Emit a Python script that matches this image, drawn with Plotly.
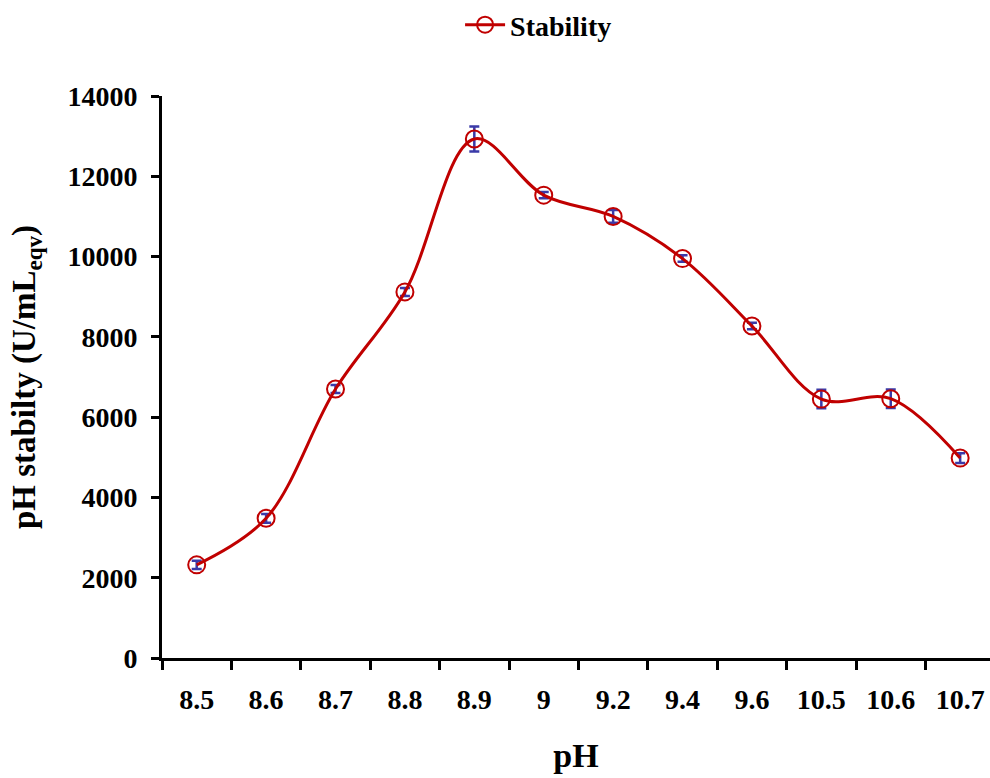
import plotly.graph_objects as go

ph_labels = ["8.5", "8.6", "8.7", "8.8", "8.9", "9", "9.2", "9.4", "9.6", "10.5", "10.6", "10.7"]
stability = [2320, 3480, 6700, 9120, 12930, 11530, 11000, 9950, 8270, 6450, 6460, 4980]
stability_err = [100, 110, 100, 100, 310, 80, 160, 80, 80, 230, 230, 120]
y_ticks = [0, 2000, 4000, 6000, 8000, 10000, 12000, 14000]

FONT = "Liberation Serif, Times New Roman, serif"
RED = "#C00000"
BLUE = "#3A3AA8"

fig = go.Figure()
fig.add_trace(go.Scatter(
    x=ph_labels, y=stability,
    mode="lines+markers",
    name="Stability",
    line=dict(color=RED, width=3, shape="spline", smoothing=1.0),
    marker=dict(symbol="circle-open", size=17, color=RED, line=dict(width=2, color=RED)),
    error_y=dict(type="data", array=stability_err, visible=True, color=BLUE, thickness=2.5, width=5),
))

fig.update_layout(
    width=990, height=778,
    margin=dict(l=162, r=0, t=96, b=120),
    paper_bgcolor="white", plot_bgcolor="white",
    font=dict(family=FONT, size=28, color="black", weight="bold"),
    showlegend=True,
    legend=dict(orientation="h", x=0.36, xref="paper", xanchor="left", y=1.0, yref="container",
                yanchor="top", font=dict(family=FONT, size=28, color="black", weight="bold"),
                itemwidth=40, bgcolor="rgba(0,0,0,0)"),
    xaxis=dict(
        type="category", range=[-0.5, 11.43],
        tickson="boundaries", ticks="outside", ticklen=9, tickwidth=2.5, tickcolor="black",
        showline=True, linewidth=3, linecolor="black", showgrid=False, zeroline=False,
        tickfont=dict(family=FONT, size=28, color="black", weight="bold"),
        ticklabelstandoff=14,
        title=dict(text="pH", font=dict(family=FONT, size=34, color="black", weight="bold"), standoff=30),
    ),
    yaxis=dict(
        range=[0, 14000], tickvals=y_ticks, ticktext=[str(v) for v in y_ticks],
        ticks="outside", ticklen=8, tickwidth=2.5, tickcolor="black",
        showline=True, linewidth=3, linecolor="black", showgrid=False, zeroline=False,
        tickfont=dict(family=FONT, size=28, color="black", weight="bold"),
        ticklabelstandoff=8,
        title=dict(text="pH stabilty (U/mL<sub>eqv</sub>)",
                   font=dict(family=FONT, size=33, color="black", weight="bold"), standoff=22),
    ),
)

fig.write_html("out.html")
